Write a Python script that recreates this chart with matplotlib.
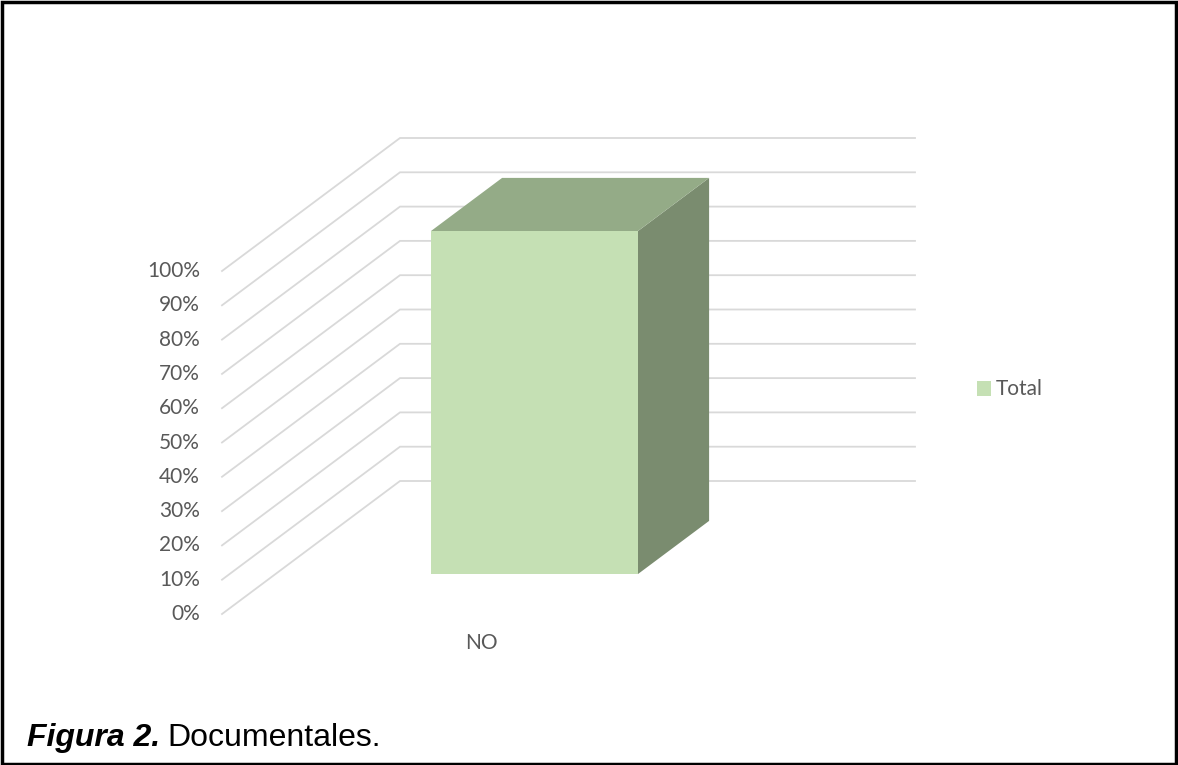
import matplotlib.pyplot as plt
from matplotlib.patches import Polygon, Rectangle

# data
categories = ["NO"]
values = [1.0]
tick_values = [i / 10 for i in range(11)]
tick_labels = [f"{int(round(t * 100))}%" for t in tick_values]
series_name = "Total"

W, H = 1178, 765
fig = plt.figure(figsize=(W / 100, H / 100), dpi=100)
ax = fig.add_axes([0, 0, 1, 1])
ax.set_xlim(0, W)
ax.set_ylim(H, 0)
ax.axis("off")

# fake 3d projection (Excel-like oblique view)
X0, Y0 = 222, 614        # front-left corner of the floor
VSCALE = 343             # pixels for 100%
DX, DY = 178, 133        # depth offset of the back wall
WALL_W = 515             # width of the back wall


def proj(x, v, d):
    return (X0 + x + d * DX, Y0 - v * VSCALE - d * DY)


grid_col = "#D9D9D9"
for t in tick_values:
    p0 = proj(0, t, 0)
    p1 = proj(0, t, 1)
    p2 = proj(WALL_W, t, 1)
    ax.plot([p0[0], p1[0], p2[0]], [p0[1], p1[1], p2[1]], color=grid_col, lw=1.3, zorder=1,
            solid_joinstyle="miter")

for t, lab in zip(tick_values, tick_labels):
    px, py = proj(0, t, 0)
    ax.text(px - 22, py, lab, ha="right", va="center", fontsize=15, color="#595959",
            family="Lato")

# bars
front_col = "#C5E0B4"
top_col = "#94AB87"
side_col = "#7A8C6F"
bar_w = 207
d0, d1 = 0.3, 0.7
slot = WALL_W / len(categories)
for i, (cat, v) in enumerate(zip(categories, values)):
    xc = slot * i + 259
    xl, xr = xc - bar_w / 2, xc + bar_w / 2
    front = [proj(xl, 0, d0), proj(xr, 0, d0), proj(xr, v, d0), proj(xl, v, d0)]
    top = [proj(xl, v, d0), proj(xr, v, d0), proj(xr, v, d1), proj(xl, v, d1)]
    side = [proj(xr, 0, d0), proj(xr, 0, d1), proj(xr, v, d1), proj(xr, v, d0)]
    ax.add_patch(Polygon(side, closed=True, fc=side_col, ec="none", zorder=3))
    ax.add_patch(Polygon(top, closed=True, fc=top_col, ec="none", zorder=3))
    ax.add_patch(Polygon(front, closed=True, fc=front_col, ec="none", zorder=4))
    lx, ly = proj(xc, 0, 0)
    ax.text(lx, ly + 29, cat, ha="center", va="center", fontsize=15, color="#595959",
            family="Lato")

# legend
ax.add_patch(Rectangle((977, 381), 14, 15, fc=front_col, ec="none"))
ax.text(996, 389, series_name, ha="left", va="center", fontsize=15, color="#595959",
        family="Lato")

# caption
cap1 = ax.text(27, 738, "Figura 2.", ha="left", va="center", fontsize=23, fontweight="bold",
               fontstyle="italic", family="Liberation Sans", color="black")
fig.canvas.draw()
bb = cap1.get_window_extent()
x_next = ax.transData.inverted().transform((bb.x1, 0))[0] + 7
ax.text(x_next, 738, "Documentales.", ha="left", va="center", fontsize=23,
        family="Liberation Sans", color="black")

# frame
ax.add_patch(Rectangle((1.5, 1.5), W - 4, H - 3, fill=False, ec="black", lw=2.5, zorder=10))

fig.savefig("out.png", dpi=100)
